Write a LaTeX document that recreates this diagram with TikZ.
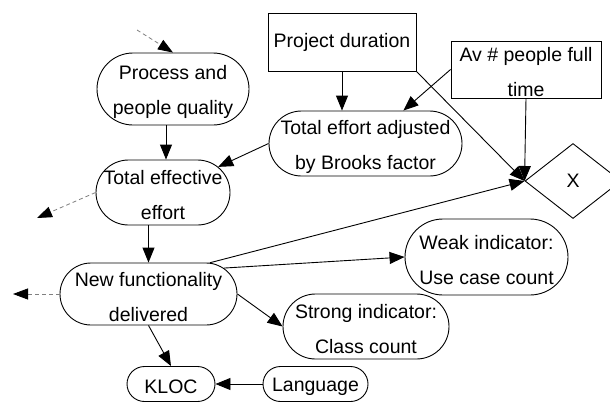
\documentclass[tikz,border=0pt]{standalone}
\usepackage{fontspec}
\setmainfont{Liberation Sans}
\usetikzlibrary{shapes.misc,shapes.geometric,arrows.meta,calc}
\begin{document}
\begin{tikzpicture}[x=1pt,y=-1pt,
  every node/.style={font=\fontsize{19.5}{35}\selectfont, align=center,
                     inner sep=0pt, line width=0.9pt},
  every label/.style={yshift=-3pt},
  pill/.style 2 args={draw, rounded rectangle, minimum width=#1, minimum height=#2},
  box/.style 2 args={draw, rectangle, minimum width=#1, minimum height=#2},
  arr/.style={line width=0.9pt, -{Triangle[length=15pt,width=12pt]}},
  ext/.style={line width=0.8pt, gray, dash pattern=on 4pt off 3pt,
              -{Triangle[length=15pt,width=11pt,color=black]}}]
\useasboundingbox (0,0) rectangle (610,402);
\fill[white] (0,0) rectangle (610,402);
\clip (0,0) rectangle (610,402);

% boxes and pills
\node[pill={152pt}{72pt}, label={center:Process and\\people quality}] (pq) at (173,89) {};
\node[box={148pt}{58pt}] (pd) at (342,42) {Project duration};
\node[box={150pt}{57pt}, label={center:Av \# people full\\time}] (av) at (526,69.5) {};
\node[pill={193pt}{65pt}, label={center:Total effort adjusted\\by Brooks factor}] (teab) at (365.5,143.5) {};
\node[pill={134pt}{65pt}, label={center:Total effective\\effort}] (tee) at (163,192.5) {};
\node[draw, diamond, minimum width=96pt, minimum height=75pt] (x) at (573,181) {X};
\node[pill={177pt}{62pt}, label={center:New functionality\\delivered}] (nf) at (148.5,294) {};
\node[pill={163pt}{76pt}, label={center:Weak indicator:\\Use case count}] (weak) at (486.5,257) {};
\node[pill={166pt}{65pt}, label={center:Strong indicator:\\Class count}] (strong) at (366,326.5) {};
\node[pill={88pt}{35pt}, label={center:KLOC}] (kloc) at (171,384) {};
\node[pill={105pt}{35pt}, label={center:Language}] (lang) at (315.5,384) {};

% free ends of the outside links
\coordinate (in0) at (137,30);
\coordinate (out1) at (37,218);
\coordinate (out2) at (13,294);

% connectors
\draw[ext] (in0) -- (pq.north);
\draw[arr] ($(pq.south)+(-7,0)$) -- ($(tee.north)+(3,0)$);
\draw[arr] (pd.south) -- (pd.south |- teab.north);
\draw[arr] (av.west) -- (teab);
\draw[arr] (pd.south east) -- (x.west);
\draw[arr] (av.south) -- (x.west);
\draw[arr] (teab.west) -- (tee);
\draw[ext] (tee.west) -- (out1);
\draw[arr] (tee.south -| nf.north) -- (nf.north);
\draw[ext] (nf.west) -- (out2);
\draw[arr] (nf.27) -- (x.west);
\draw[arr] (nf.19) -- (weak.west);
\draw[arr] (nf.east) -- (strong.west);
\draw[arr] (nf.south) -- (kloc.north);
\draw[arr] (lang.west) -- (kloc.east);
\end{tikzpicture}
\end{document}
